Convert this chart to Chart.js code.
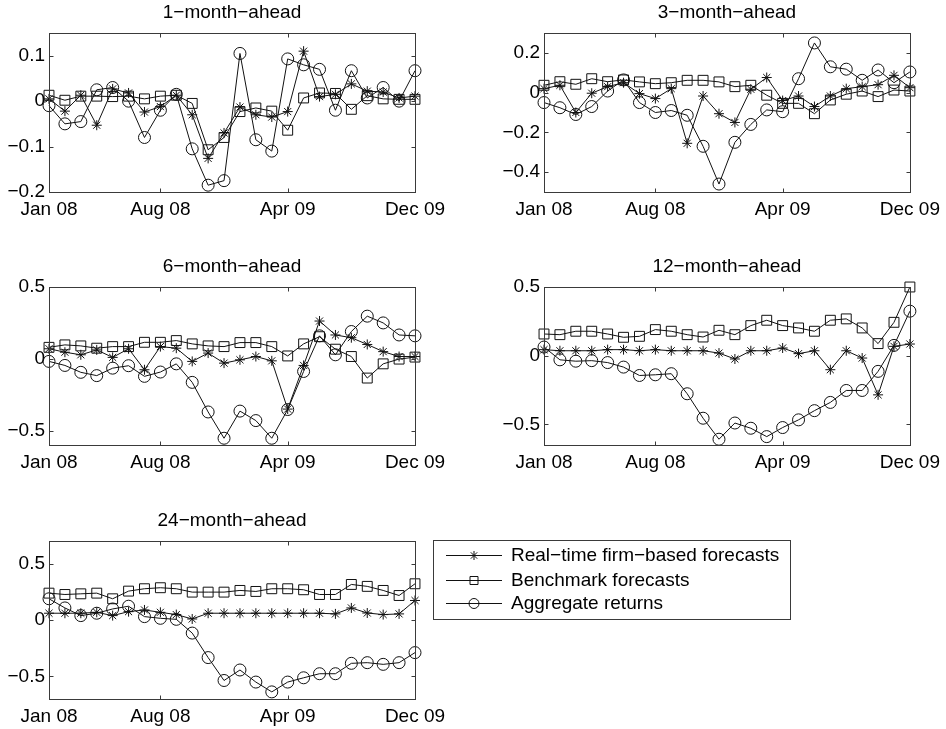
<!DOCTYPE html>
<html><head><meta charset="utf-8">
<script src="https://cdn.jsdelivr.net/npm/chart.js@4.4.1/dist/chart.umd.min.js"></script>
<style>
html,body{margin:0;padding:0;background:#fff;}
#wrap{position:relative;width:946px;height:729px;overflow:hidden;background:#fff;}
canvas{position:absolute;}
</style></head><body><div id="wrap">
<canvas id="c1" width="470" height="230" style="left:0px;top:0px"></canvas>
<canvas id="c2" width="476" height="230" style="left:470px;top:0px"></canvas>
<canvas id="c3" width="470" height="240" style="left:0px;top:240px"></canvas>
<canvas id="c4" width="476" height="240" style="left:470px;top:240px"></canvas>
<canvas id="c5" width="946" height="249" style="left:0px;top:480px"></canvas>
</div>
<script>
// ---------- DATA ----------
const months = ['Jan 08','Feb 08','Mar 08','Apr 08','May 08','Jun 08','Jul 08','Aug 08','Sep 08','Oct 08','Nov 08','Dec 08',
                'Jan 09','Feb 09','Mar 09','Apr 09','May 09','Jun 09','Jul 09','Aug 09','Sep 09','Oct 09','Nov 09','Dec 09'];
const xTickLabels = ['Jan 08','Aug 08','Apr 09','Dec 09'];
const seriesNames = ['Real\u2212time firm\u2212based forecasts','Benchmark forecasts','Aggregate returns'];
const panelTitles = ['1\u2212month\u2212ahead','3\u2212month\u2212ahead','6\u2212month\u2212ahead','12\u2212month\u2212ahead','24\u2212month\u2212ahead'];

const realTime1  = [0.005,-0.022,0.013,-0.053,0.027,0.018,-0.024,-0.012,0.013,-0.03,-0.126,-0.07,-0.013,-0.03,-0.035,-0.023,0.11,0.01,0.015,0.038,0.022,0.02,0.007,0.011];
const benchmark1 = [0.013,0.002,0.011,0.011,0.01,0.011,0.005,0.011,0.013,-0.005,-0.107,-0.08,-0.023,-0.015,-0.022,-0.064,0.007,0.018,0.017,-0.018,0.012,0.005,0.004,0.004];
const aggregate1 = [-0.01,-0.05,-0.045,0.025,0.03,0.0,-0.08,-0.02,0.015,-0.105,-0.185,-0.175,0.105,-0.085,-0.11,0.093,0.08,0.07,-0.02,0.067,0.007,0.03,0.0,0.067];

const realTime2  = [0.02,0.037,-0.1,-0.003,0.03,0.05,-0.005,-0.03,0.02,-0.255,-0.017,-0.106,-0.15,0.017,0.076,-0.04,-0.017,-0.07,-0.017,0.02,0.03,0.04,0.087,0.025];
const benchmark2 = [0.037,0.055,0.042,0.07,0.055,0.064,0.054,0.045,0.05,0.062,0.062,0.054,0.03,0.037,-0.013,-0.054,-0.054,-0.106,-0.037,-0.008,0.008,-0.02,0.013,0.008];
const aggregate2 = [-0.05,-0.076,-0.11,-0.07,0.008,0.064,-0.05,-0.1,-0.09,-0.114,-0.27,-0.46,-0.25,-0.16,-0.087,-0.096,0.07,0.25,0.13,0.118,0.062,0.114,0.05,0.104];

const realTime3  = [0.07,0.046,0.028,0.062,0.01,0.07,-0.076,0.085,0.074,-0.018,0.04,-0.03,-0.007,0.016,-0.014,-0.35,-0.046,0.263,0.166,0.147,0.1,0.05,0.016,0.016];
const benchmark3 = [0.08,0.097,0.09,0.074,0.085,0.085,0.115,0.115,0.127,0.104,0.09,0.085,0.113,0.113,0.085,0.02,0.104,0.154,0.067,0.016,-0.134,-0.035,-0.002,0.012];
const aggregate3 = [-0.018,-0.046,-0.094,-0.117,-0.065,-0.048,-0.122,-0.092,-0.035,-0.164,-0.37,-0.553,-0.364,-0.43,-0.553,-0.353,-0.088,0.16,0.028,0.19,0.297,0.25,0.166,0.16];

const realTime4  = [0.044,0.036,0.036,0.036,0.044,0.044,0.036,0.044,0.036,0.036,0.036,0.019,-0.024,0.036,0.036,0.056,0.015,0.036,-0.102,0.036,-0.017,-0.285,0.068,0.085];
const benchmark4 = [0.158,0.153,0.178,0.178,0.158,0.134,0.141,0.19,0.178,0.153,0.136,0.185,0.153,0.219,0.258,0.219,0.202,0.178,0.258,0.268,0.202,0.088,0.243,0.5];
const aggregate4 = [0.063,-0.03,-0.04,-0.036,-0.05,-0.083,-0.144,-0.139,-0.131,-0.277,-0.455,-0.608,-0.49,-0.528,-0.589,-0.523,-0.467,-0.4,-0.34,-0.253,-0.253,-0.114,0.075,0.324];

const realTime5  = [0.06,0.06,0.06,0.068,0.039,0.074,0.089,0.068,0.048,0.009,0.06,0.06,0.06,0.06,0.06,0.06,0.06,0.06,0.054,0.107,0.062,0.048,0.054,0.173];
const benchmark5 = [0.238,0.226,0.232,0.238,0.188,0.256,0.277,0.286,0.277,0.247,0.247,0.247,0.262,0.253,0.277,0.277,0.268,0.226,0.226,0.315,0.298,0.262,0.217,0.321];
const aggregate5 = [0.188,0.107,0.039,0.06,0.098,0.122,0.03,0.015,0.006,-0.116,-0.333,-0.536,-0.443,-0.55,-0.637,-0.55,-0.512,-0.476,-0.476,-0.384,-0.378,-0.393,-0.378,-0.289];

const yTicks1 = [-0.2,-0.1,0,0.1];  const yLimits1 = [-0.2,0.15];
const yTicks2 = [-0.4,-0.2,0,0.2];  const yLimits2 = [-0.5,0.3];
const yTicks3 = [-0.5,0,0.5];       const yLimits3 = [-0.6,0.5];
const yTicks4 = [-0.5,0,0.5];       const yLimits4 = [-0.65,0.5];
const yTicks5 = [-0.5,0,0.5];       const yLimits5 = [-0.7,0.7];

// ---------- STYLE / LAYOUT ----------
const FONT = '"Liberation Sans", Arial, Helvetica, sans-serif';
const FS = 19;
const INK = '#111';
const AXIS = '#3a3a3a';

function fmt(v){
  if (Math.abs(v) < 1e-9) return '0';
  const s = String(parseFloat(Math.abs(v).toFixed(3)));
  return (v < 0 ? '\u2212' : '') + s;
}

const matlabAxes = {
  id: 'matlabAxes',
  afterDraw(chart, args, opts) {
    const ctx = chart.ctx, a = chart.chartArea;
    const L = Math.round(a.left) + 0.5, R = Math.round(a.right) + 0.5;
    const T = Math.round(a.top) + 0.5, B = Math.round(a.bottom) + 0.5;
    ctx.save();
    ctx.strokeStyle = AXIS; ctx.lineWidth = 1;
    ctx.strokeRect(L, T, R - L, B - T);
    const tl = 4;
    ctx.beginPath();
    chart.scales.y.ticks.forEach(t => {
      const y = Math.round(chart.scales.y.getPixelForValue(t.value)) + 0.5;
      ctx.moveTo(L, y); ctx.lineTo(L + tl, y);
      ctx.moveTo(R, y); ctx.lineTo(R - tl, y);
    });
    chart.scales.x.ticks.forEach(t => {
      const x = Math.round(chart.scales.x.getPixelForValue(t.value)) + 0.5;
      ctx.moveTo(x, B); ctx.lineTo(x, B - tl);
      ctx.moveTo(x, T); ctx.lineTo(x, T + tl);
    });
    ctx.stroke();
    // title
    ctx.fillStyle = '#000';
    ctx.font = FS + 'px ' + FONT;
    ctx.textAlign = 'center'; ctx.textBaseline = 'middle';
    ctx.fillText(opts.text, (a.left + a.right) / 2, a.top - 20);
    // legend
    if (opts.legend) {
      const g = opts.legend;
      ctx.strokeStyle = AXIS;
      ctx.strokeRect(g.x + 0.5, g.y + 0.5, g.w, g.h);
      chart.data.datasets.forEach((ds, i) => {
        const y = g.rowY[i] + 0.5;
        ctx.strokeStyle = INK; ctx.lineWidth = 1;
        ctx.beginPath(); ctx.moveTo(g.lineX0, y); ctx.lineTo(g.lineX1, y); ctx.stroke();
        const mx = (g.lineX0 + g.lineX1) / 2;
        ctx.beginPath();
        if (ds.pointStyle === 'star') {
          const r = 4.5, d = r * Math.SQRT1_2;
          ctx.moveTo(mx - r, y); ctx.lineTo(mx + r, y);
          ctx.moveTo(mx, y - r); ctx.lineTo(mx, y + r);
          ctx.moveTo(mx - d, y - d); ctx.lineTo(mx + d, y + d);
          ctx.moveTo(mx - d, y + d); ctx.lineTo(mx + d, y - d);
        } else if (ds.pointStyle === 'rect') {
          ctx.rect(mx - 4, y - 4, 8, 8);
        } else {
          ctx.arc(mx, y, 5, 0, Math.PI * 2);
        }
        ctx.stroke();
        ctx.fillStyle = '#000';
        ctx.textAlign = 'left'; ctx.textBaseline = 'middle';
        ctx.fillText(ds.label, g.textX, y);
      });
    }
    ctx.restore();
  }
};

function makeChart(id, title, rt, bm, ag, yTicks, yLim, lay, legend) {
  const xIdx = xTickLabels.map(l => months.indexOf(l));
  const common = { borderColor: INK, borderWidth: 1, pointBorderColor: INK,
                   pointBackgroundColor: 'rgba(0,0,0,0)', pointBorderWidth: 1,
                   tension: 0, clip: false, fill: false };
  return new Chart(document.getElementById(id), {
    type: 'line',
    data: {
      labels: months,
      datasets: [
        Object.assign({ label: seriesNames[0], data: rt, pointStyle: 'star', pointRadius: 5 }, common),
        Object.assign({ label: seriesNames[1], data: bm, pointStyle: 'rect', pointRadius: 7 }, common),
        Object.assign({ label: seriesNames[2], data: ag, pointStyle: 'circle', pointRadius: 6 }, common)
      ]
    },
    options: {
      responsive: false, animation: false, devicePixelRatio: 1,
      layout: { padding: { left: 0, right: lay.padR, top: lay.padT, bottom: 0 } },
      plugins: { legend: { display: false }, tooltip: { enabled: false },
                 matlabAxes: { text: title, legend: legend } },
      scales: {
        x: {
          type: 'category', offset: false,
          grid: { display: false, drawTicks: false }, border: { display: false },
          afterBuildTicks: s => { s.ticks = xIdx.map(v => ({ value: v })); },
          afterFit: s => { s.height = lay.xH; },
          ticks: { autoSkip: false, maxRotation: 0, padding: 6, color: '#000',
                   font: { family: FONT, size: FS } }
        },
        y: {
          type: 'linear', min: yLim[0], max: yLim[1],
          grid: { display: false, drawTicks: false }, border: { display: false },
          afterBuildTicks: s => { s.ticks = yTicks.map(v => ({ value: v })); },
          afterFit: s => { s.width = lay.yW; },
          ticks: { padding: 4, color: '#000', font: { family: FONT, size: FS },
                   callback: v => fmt(v) }
        }
      }
    },
    plugins: [matlabAxes]
  });
}

makeChart('c1', panelTitles[0], realTime1, benchmark1, aggregate1, yTicks1, yLimits1,
          { yW: 49, padR: 55, padT: 33, xH: 38 });
makeChart('c2', panelTitles[1], realTime2, benchmark2, aggregate2, yTicks2, yLimits2,
          { yW: 74, padR: 35, padT: 33, xH: 38 });
makeChart('c3', panelTitles[2], realTime3, benchmark3, aggregate3, yTicks3, yLimits3,
          { yW: 49, padR: 55, padT: 47, xH: 35 });
makeChart('c4', panelTitles[3], realTime4, benchmark4, aggregate4, yTicks4, yLimits4,
          { yW: 74, padR: 35, padT: 47, xH: 35 });
makeChart('c5', panelTitles[4], realTime5, benchmark5, aggregate5, yTicks5, yLimits5,
          { yW: 49, padR: 531, padT: 61, xH: 30 },
          { x: 433, y: 60, w: 357, h: 79, rowY: [75, 100, 123], lineX0: 446, lineX1: 502, textX: 511 });
</script>
</body></html>
